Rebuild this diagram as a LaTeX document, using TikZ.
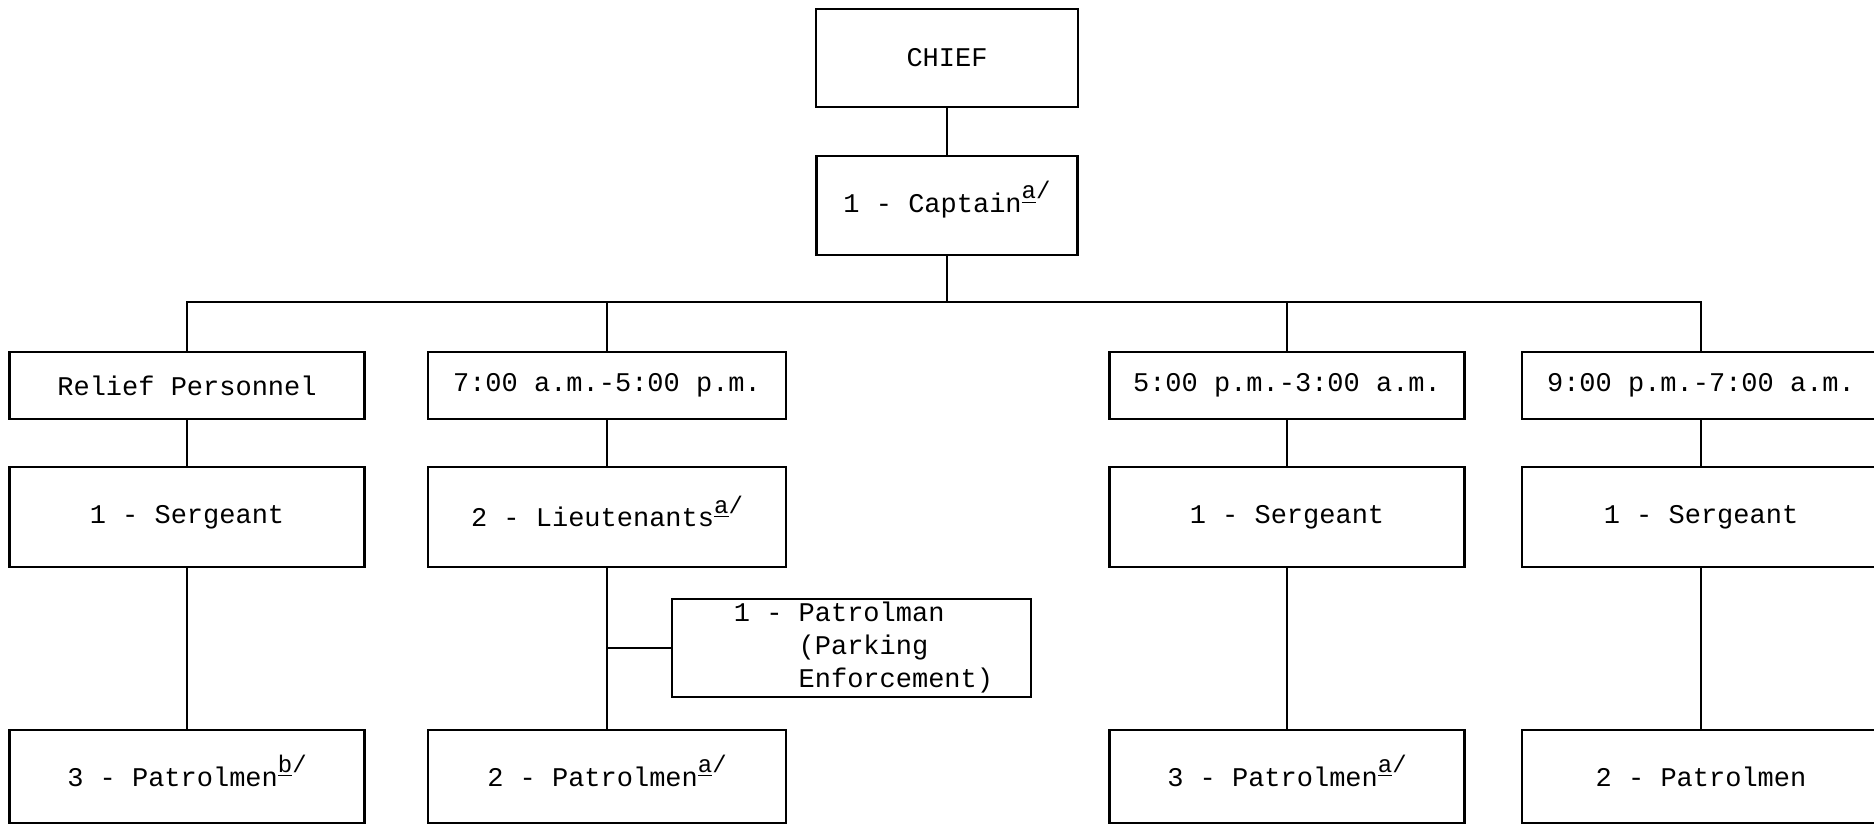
\documentclass[tikz,border=0pt]{standalone}
\usepackage{fontspec}
\setmonofont{Liberation Mono}
\newcommand\fnmark[1]{\smash{\raisebox{0.95ex}{\fontsize{12}{12}\selectfont\underline{#1}/}}}
\begin{document}
\begin{tikzpicture}[x=0.5pt,y=-0.5pt,
  box/.style={draw,line width=1.3pt,inner sep=0pt,
    font=\ttfamily\fontsize{13.5}{16.5}\selectfont},
  link/.style={line width=1.3pt}]
\useasboundingbox (0,0) rectangle (1874,825);
\clip (0,0) rectangle (1874,825);
\fill[white] (0,0) rectangle (1874,825);
% top
\node[box,minimum width=131pt,minimum height=49pt] (chief) at (947,58) {CHIEF};
\node[box,minimum width=130.5pt,minimum height=49.5pt] (captain) at (947,205.5) {1 - Captain\fnmark{a}};
% shifts
\node[box,minimum width=177.5pt,minimum height=33.5pt] (relief) at (187,385.5) {Relief Personnel};
\node[box,minimum width=179pt,minimum height=33.5pt] (shiftA) at (607,385.5) {7:00 a.m.-5:00 p.m.};
\node[box,minimum width=177.5pt,minimum height=33.5pt] (shiftB) at (1287,385.5) {5:00 p.m.-3:00 a.m.};
\node[box,minimum width=179pt,minimum height=33.5pt] (shiftC) at (1701,385.5) {9:00 p.m.-7:00 a.m.};
% second row
\node[box,minimum width=177.5pt,minimum height=50pt] (sgtR) at (187,517) {1 - Sergeant};
\node[box,minimum width=179pt,minimum height=50pt] (lieut) at (607,517) {2 - Lieutenants\fnmark{a}\hspace{20pt}};
\node[box,minimum width=177.5pt,minimum height=50pt] (sgtB) at (1287,517) {1 - Sergeant};
\node[box,minimum width=179pt,minimum height=50pt] (sgtC) at (1701,517) {1 - Sergeant\hspace{8pt}};
% parking
\node[box,minimum width=179.5pt,minimum height=49pt,align=left] (park) at (851.5,648)
  {\hspace{12pt}1 - Patrolman\\\hspace{12pt}\phantom{1 - }(Parking\\\hspace{12pt}\phantom{1 - }Enforcement)};
% bottom row
\node[box,minimum width=177.5pt,minimum height=46.5pt] (patR) at (187,776.5) {3 - Patrolmen\fnmark{b}};
\node[box,minimum width=179pt,minimum height=46.5pt] (patA) at (607,776.5) {2 - Patrolmen\fnmark{a}};
\node[box,minimum width=177.5pt,minimum height=46.5pt] (patB) at (1287,776.5) {3 - Patrolmen\fnmark{a}};
\node[box,minimum width=179pt,minimum height=46.5pt] (patC) at (1701,776.5) {2 - Patrolmen};
% connectors
\coordinate (bus) at (947,302);
\draw[link] (chief.south) -- (captain.north);
\draw[link] (captain.south) -- (bus);
\draw[link] (relief.north) -- (relief.north |- bus) -- (shiftC.north |- bus) -- (shiftC.north);
\draw[link] (shiftA.north) -- (shiftA.north |- bus);
\draw[link] (shiftB.north) -- (shiftB.north |- bus);
\draw[link] (relief.south) -- (sgtR.north);
\draw[link] (shiftA.south) -- (lieut.north);
\draw[link] (shiftB.south) -- (sgtB.north);
\draw[link] (shiftC.south) -- (sgtC.north);
\draw[link] (sgtR.south) -- (patR.north);
\draw[link] (lieut.south) -- (patA.north);
\draw[link] (sgtB.south) -- (patB.north);
\draw[link] (sgtC.south) -- (patC.north);
\draw[link] (park.west) -- (park.west -| lieut.south);
\end{tikzpicture}
\end{document}
